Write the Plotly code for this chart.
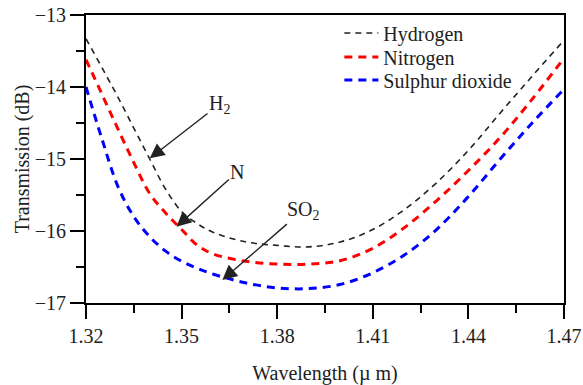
import plotly.graph_objects as go

wavelength = [1.32, 1.325, 1.33, 1.335, 1.34, 1.345, 1.35, 1.355, 1.36, 1.37,
              1.38, 1.39, 1.40, 1.41, 1.42, 1.43, 1.44, 1.45, 1.46, 1.47]
hydrogen = [-13.33, -13.73, -14.14, -14.57, -15.0, -15.42, -15.73, -15.9, -16.02, -16.15,
            -16.2, -16.22, -16.15, -15.98, -15.7, -15.33, -14.88, -14.36, -13.85, -13.35]
nitrogen = [-13.62, -14.1, -14.58, -15.05, -15.48, -15.75, -15.98, -16.2, -16.32, -16.42,
            -16.46, -16.46, -16.41, -16.24, -15.95, -15.58, -15.16, -14.7, -14.17, -13.6]
sulphur = [-14.0, -14.72, -15.38, -15.8, -16.08, -16.28, -16.42, -16.52, -16.6, -16.72,
           -16.79, -16.8, -16.74, -16.58, -16.33, -15.98, -15.52, -15.0, -14.5, -14.03]

series_names = ["Hydrogen", "Nitrogen", "Sulphur dioxide"]
series_values = [hydrogen, nitrogen, sulphur]
series_colors = ["#222222", "#ff0000", "#0000ff"]
series_widths = [1.6, 3, 3]
series_dash = ["6px,5px", "8px,6px", "8px,6px"]
legend_ids = ["legend", "legend2", "legend3"]
legend_y = [0.9375, 0.854, 0.774]

x_ticks = [1.32, 1.35, 1.38, 1.41, 1.44, 1.47]
y_ticks = [-17, -16, -15, -14, -13]

# annotation: label, arrow head (x,y), label centre (x,y)
labels = ["H<sub>2</sub>", "N", "SO<sub>2</sub>"]
heads = [(1.340, -14.99), (1.3484, -15.94), (1.3628, -16.68)]
label_pos = [(1.3619, -14.24), (1.3675, -15.18), (1.3881, -15.71)]

FONT = "Liberation Serif"
TXT = "#222222"

fig = go.Figure()
for name, vals, col, w, d, lg in zip(series_names, series_values, series_colors,
                                      series_widths, series_dash, legend_ids):
    fig.add_trace(go.Scatter(x=wavelength, y=vals, mode="lines", name=name, legend=lg,
                             showlegend=True,
                             line=dict(color=col, width=w, dash=d, shape="spline")))

for lab, h, p in zip(labels, heads, label_pos):
    fig.add_annotation(x=h[0], y=h[1], ax=p[0], ay=p[1], xref="x", yref="y",
                       axref="x", ayref="y", text=lab, showarrow=True,
                       arrowhead=2, arrowsize=2.1, arrowwidth=1.4, arrowcolor="#222222",
                       font=dict(family=FONT, size=20, color=TXT))

axis_common = dict(showline=True, linecolor="black", linewidth=2, mirror=True,
                   ticks="outside", tickcolor="black", tickwidth=2, ticklen=14,
                   showgrid=False, zeroline=False, automargin=False,
                   tickfont=dict(family=FONT, size=20, color=TXT))

fig.update_xaxes(range=[1.32, 1.47], tickvals=x_ticks, ticktext=[f"{v:.2f}" for v in x_ticks],
                 ticklabeloverflow="allow",
                 minor=dict(ticks="outside", ticklen=8, tickwidth=2, tickcolor="black",
                            tickvals=[1.335, 1.365, 1.395, 1.425, 1.455]),
                 title=dict(text="Wavelength (\u00b5 m)", font=dict(family=FONT, size=20, color=TXT),
                            standoff=20),
                 **axis_common)
fig.update_yaxes(range=[-17, -13], tickvals=y_ticks, ticktext=["\u221217", "\u221216", "\u221215", "\u221214", "\u221213"],
                 minor=dict(ticks="outside", ticklen=8, tickwidth=2, tickcolor="black",
                            tickvals=[-16.5, -15.5, -14.5, -13.5]),
                 title=dict(text="Transmission (dB)", font=dict(family=FONT, size=20, color=TXT),
                            standoff=0),
                 **axis_common)

legend_common = dict(x=0.53, xanchor="left", yanchor="middle",
                     bgcolor="rgba(0,0,0,0)", borderwidth=0,
                     font=dict(family=FONT, size=20, color=TXT), itemwidth=34)
fig.update_layout(width=583, height=385, showlegend=True,
                  margin=dict(l=86, r=19, t=15, b=82, autoexpand=False),
                  paper_bgcolor="white", plot_bgcolor="white",
                  legend=dict(y=legend_y[0], **legend_common),
                  legend2=dict(y=legend_y[1], **legend_common),
                  legend3=dict(y=legend_y[2], **legend_common))

fig.write_html("out.html")
